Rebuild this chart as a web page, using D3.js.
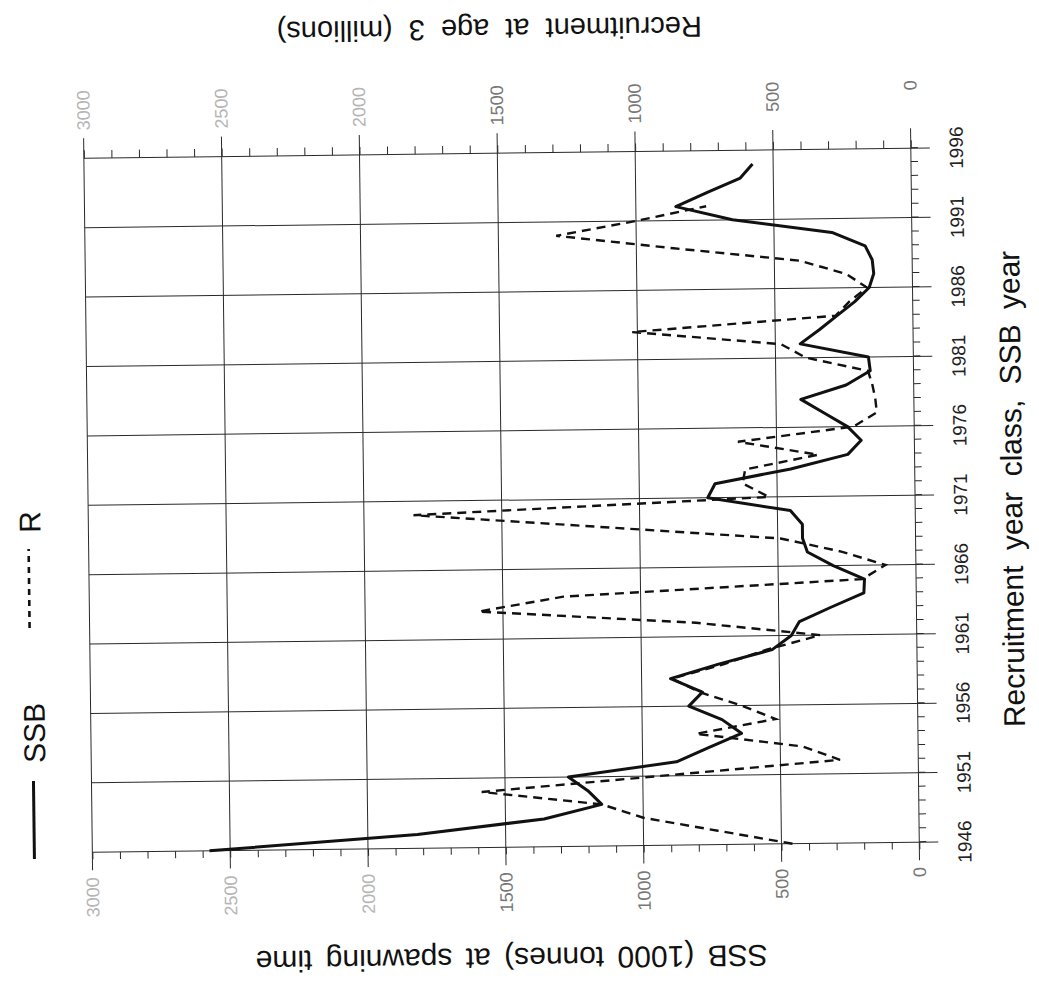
<!DOCTYPE html>
<html><head><meta charset="utf-8">
<script src="https://cdn.jsdelivr.net/npm/d3@7"></script>
<style>
html,body{margin:0;padding:0;background:#fff;}
svg{display:block;}
text{font-family:"Liberation Sans", Arial, Helvetica, sans-serif;}
</style></head><body>
<svg id="chart" width="1039" height="988"></svg>
<script>
// ---- data ----
const ssbYears = [1946,1947,1948,1949,1950,1951,1952,1953,1954,1955,1956,1957,1958,1959,1960,1961,1962,1963,1964,1965,1966,1967,1968,1969,1970,1971,1972,1973,1974,1975,1976,1977,1978,1979,1980,1981,1982,1983,1984,1985,1986,1987,1988,1989,1990,1991,1992,1993,1994,1995];
const ssbValues = [2575,1820,1360,1150,1200,1270,877,760,640,710,830,780,895,720,525,455,425,310,190,187,300,393,410,410,453,752,725,450,242,193,242,326,410,245,157,163,410,340,275,210,157,140,145,170,290,650,855,740,620,575];
const recYears = [1946,1947,1948,1949,1950,1951,1952,1953,1954,1955,1956,1957,1958,1959,1960,1961,1962,1963,1964,1965,1966,1967,1968,1969,1970,1971,1972,1973,1974,1975,1976,1977,1978,1979,1980,1981,1982,1983,1984,1985,1986,1987,1988,1989,1990,1991,1992];
const recValues = [460,730,1000,1150,1585,935,284,420,805,515,640,790,890,700,545,350,800,1588,1280,195,110,270,490,1150,1820,530,625,615,350,640,220,135,140,150,165,390,480,1020,280,230,165,240,410,865,1290,1000,745];
const yearTickLabels = ["1946","1951","1956","1961","1966","1971","1976","1981","1986","1991","1996"];
const ssbTickLabels = [0,500,1000,1500,2000,2500,3000];
const recTickLabels = [0,500,1000,1500,2000,2500,3000];
const legendLabels = ["SSB","R"];
const xTitle = "Recruitment year class, SSB year";
const ssbTitle = "SSB (1000 tonnes) at spawning time";
const recTitle = "Recruitment at age 3 (millions)";

// ---- drawing (chart built upright, then turned as in the scan) ----
const svg = d3.select("#chart");
const outer = svg.append("g").attr("transform","rotate(-0.7 520 494)");
const g = outer.append("g").attr("transform","translate(0,988) rotate(-90)");

const x = d3.scaleLinear().domain([1946,1996]).range([141,835]);
const y = d3.scaleLinear().domain([0,3000]).range([915,88]);
const gridColor = "#2a2a2a";

// horizontal value grid (every 500)
g.append("g").selectAll("line").data(ssbTickLabels).join("line")
  .attr("x1", x(1946)-18).attr("x2", x(1996)+20)
  .attr("y1", d=>y(d)).attr("y2", d=>y(d))
  .attr("stroke", gridColor).attr("stroke-width", 1);

// vertical year grid (every 5 years)
g.append("g").selectAll("line").data(yearTickLabels.map(Number)).join("line")
  .attr("x1", d=>x(d)).attr("x2", d=>x(d))
  .attr("y1", y(3000)).attr("y2", y(0)+19)
  .attr("stroke", gridColor).attr("stroke-width", 1);

// minor ticks: years on bottom axis
const yearAxis = g.append("g").attr("transform",`translate(0,${y(0)})`)
  .call(d3.axisBottom(x).tickValues(d3.range(1946,1997,1)).tickSize(7).tickFormat(""));
yearAxis.select(".domain").remove();
yearAxis.selectAll("line").attr("stroke", gridColor);

// minor ticks: value axes every 100
const leftAxis = g.append("g").attr("transform",`translate(${x(1946)},0)`)
  .call(d3.axisLeft(y).tickValues(d3.range(0,3001,100)).tickSize(7).tickFormat(""));
leftAxis.select(".domain").remove();
leftAxis.selectAll("line").attr("stroke", gridColor);
const rightAxis = g.append("g").attr("transform",`translate(${x(1996)},0)`)
  .call(d3.axisRight(y).tickValues(d3.range(0,3001,100)).tickSize(8).tickFormat(""));
rightAxis.select(".domain").remove();
rightAxis.selectAll("line").attr("stroke", gridColor);

// year labels
g.append("g").selectAll("text").data(yearTickLabels).join("text")
  .attr("x", d=>x(+d)).attr("y", 967)
  .attr("text-anchor","middle").attr("font-size",19).attr("fill","#222")
  .text(d=>d);

// SSB value labels
const labelFill = d => d >= 2000 ? "#b5b5b5" : "#777";
g.append("g").selectAll("text").data(ssbTickLabels).join("text")
  .attr("x", 116).attr("y", d=>y(d)).attr("dy","0.35em")
  .attr("text-anchor","end").attr("font-size",18).attr("fill", labelFill)
  .text(d=>d);

// Recruitment value labels
g.append("g").selectAll("text").data(recTickLabels).join("text")
  .attr("x", 903).attr("y", d=>y(d)).attr("dy","0.35em")
  .attr("text-anchor","end").attr("font-size",18).attr("fill", labelFill)
  .text(d=>d);

// series
const ssbLine = d3.line().x(d=>x(d[0])).y(d=>y(d[1]));
g.append("path").datum(d3.zip(recYears, recValues))
  .attr("d", ssbLine).attr("fill","none").attr("stroke","#111")
  .attr("stroke-width",2.4).attr("stroke-dasharray","9,6");
g.append("path").datum(d3.zip(ssbYears, ssbValues))
  .attr("d", ssbLine).attr("fill","none").attr("stroke","#111")
  .attr("stroke-width",3).attr("stroke-linejoin","round");

// titles
g.append("text").attr("x",493).attr("y",1022).attr("text-anchor","middle")
  .attr("font-size",30).attr("word-spacing","7px").attr("fill","#111").text(xTitle);
g.append("text").attr("transform","translate(40,506) rotate(-90)").attr("text-anchor","middle")
  .attr("font-size",30).attr("word-spacing","5px").attr("fill","#111").text(ssbTitle);
g.append("text").attr("transform","translate(969,495) rotate(-90)").attr("text-anchor","middle")
  .attr("font-size",29).attr("word-spacing","8px").attr("fill","#111").text(recTitle);

// legend
const leg = g.append("g");
leg.append("line").attr("x1",135).attr("x2",213).attr("y1",30).attr("y2",30)
  .attr("stroke","#111").attr("stroke-width",3);
leg.append("text").attr("x",231).attr("y",42).attr("font-size",30).attr("fill","#111").text(legendLabels[0]);
leg.append("line").attr("x1",366).attr("x2",445).attr("y1",28).attr("y2",28)
  .attr("stroke","#111").attr("stroke-width",2.6).attr("stroke-dasharray","6,5");
leg.append("text").attr("x",461).attr("y",40).attr("font-size",30).attr("fill","#111").text(legendLabels[1]);
</script>
</body></html>
